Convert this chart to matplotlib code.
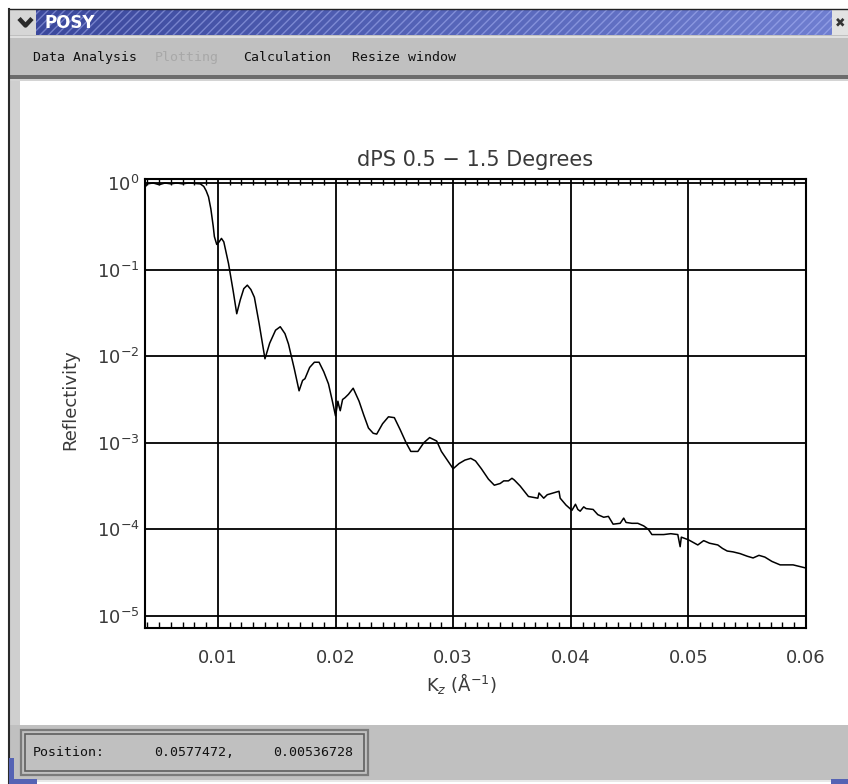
"""POSY reflectivity window — dPS 0.5-1.5 degrees, redrawn with matplotlib.

Run: python plot.py  ->  out.png (848x784)
"""
import numpy as np
import matplotlib
matplotlib.use("Agg")
import matplotlib.pyplot as plt
from matplotlib.patches import Rectangle
from matplotlib.colors import LinearSegmentedColormap
from matplotlib.ticker import FixedLocator, MultipleLocator, NullLocator, LogFormatterSciNotation

W, H = 848, 784

# Kz (1/Å) and log10(reflectivity)
kz = [0.0038, 0.0040, 0.0045, 0.0050, 0.0055, 0.0060, 0.0065, 0.0070, 0.0075, 0.0080,
      0.0085, 0.0088, 0.0090, 0.0092, 0.0094, 0.0096, 0.0097, 0.0099, 0.0101, 0.0103,
      0.0105, 0.0109, 0.0113, 0.0116, 0.0119, 0.0122, 0.0125, 0.0128, 0.0131, 0.0135,
      0.0140, 0.0144, 0.0149, 0.0153, 0.0157, 0.0160, 0.0165, 0.0169, 0.0172, 0.0174,
      0.0178, 0.0182, 0.0186, 0.0190, 0.0194, 0.0197, 0.0200, 0.0202, 0.0203, 0.0204,
      0.0206, 0.0208, 0.0211, 0.0215, 0.0220, 0.0224, 0.0228, 0.0232, 0.0235, 0.0240,
      0.0245, 0.0250, 0.0255, 0.0260, 0.0264, 0.0270, 0.0275, 0.0280, 0.0286, 0.0290,
      0.0295, 0.0300, 0.0305, 0.0310, 0.0315, 0.0319, 0.0324, 0.0330, 0.0335, 0.0340,
      0.0343, 0.0347, 0.0350, 0.0352, 0.0357, 0.0364, 0.0368, 0.0372, 0.0373, 0.0377,
      0.0380, 0.0385, 0.0390, 0.0391, 0.0396, 0.0401, 0.0404, 0.0406, 0.0408, 0.0411,
      0.0413, 0.0419, 0.0423, 0.0428, 0.0432, 0.0436, 0.0442, 0.0445, 0.0447, 0.0452,
      0.0457, 0.0462, 0.0466, 0.0469, 0.0474, 0.0479, 0.0485, 0.0491, 0.0493, 0.0494,
      0.0496, 0.0500, 0.0504, 0.0508, 0.0513, 0.0518, 0.0525, 0.0529, 0.0533, 0.0538,
      0.0544, 0.0550, 0.0555, 0.0560, 0.0565, 0.0571, 0.0578, 0.0584, 0.0589, 0.0595,
      0.0601]
log_refl = [-0.05, -0.01, 0.00, -0.02, 0.00, -0.01, 0.00, -0.01, 0.00, -0.005,
            -0.01, -0.04, -0.09, -0.16, -0.30, -0.50, -0.62, -0.71, -0.68, -0.64,
            -0.68, -0.93, -1.25, -1.51, -1.35, -1.22, -1.18, -1.23, -1.32, -1.62,
            -2.03, -1.85, -1.70, -1.66, -1.74, -1.86, -2.15, -2.40, -2.28, -2.26,
            -2.13, -2.07, -2.07, -2.18, -2.32, -2.50, -2.69, -2.52, -2.58, -2.63,
            -2.50, -2.48, -2.44, -2.37, -2.52, -2.68, -2.83, -2.89, -2.90, -2.78,
            -2.70, -2.71, -2.85, -3.00, -3.10, -3.10, -3.00, -2.94, -2.98, -3.10,
            -3.20, -3.30, -3.24, -3.20, -3.18, -3.21, -3.30, -3.42, -3.49, -3.47,
            -3.44, -3.44, -3.41, -3.43, -3.50, -3.62, -3.63, -3.64, -3.58, -3.64,
            -3.60, -3.58, -3.56, -3.64, -3.72, -3.78, -3.71, -3.77, -3.79, -3.74,
            -3.76, -3.77, -3.83, -3.86, -3.85, -3.94, -3.93, -3.87, -3.92, -3.93,
            -3.93, -3.96, -4.00, -4.06, -4.06, -4.06, -4.05, -4.06, -4.20, -4.09,
            -4.10, -4.12, -4.15, -4.18, -4.13, -4.16, -4.18, -4.22, -4.25, -4.26,
            -4.28, -4.31, -4.33, -4.30, -4.32, -4.37, -4.41, -4.41, -4.41, -4.43,
            -4.45]

x_major = [0.01, 0.02, 0.03, 0.04, 0.05, 0.06]
y_major = [1e0, 1e-1, 1e-2, 1e-3, 1e-4, 1e-5]

TITLE = "dPS 0.5 \u2212 1.5 Degrees"
MENU = [("Data Analysis", 33, "#111"), ("Plotting", 155, "#a8a8a8"),
        ("Calculation", 243, "#111"), ("Resize window", 352, "#111")]
STATUS = [("Position:", 33), ("0.0577472,", 154), ("0.00536728", 273)]

GRAY = "#c0c0c0"
MONO = "DejaVu Sans Mono"
LABEL_COL = "#3a3a3a"


def box(ax, x0, y0, x1, y1, **kw):
    ax.add_patch(Rectangle((x0, y0), x1 - x0, y1 - y0, **kw))


def draw_window(bg):
    """Window chrome in pixel coords (y down)."""
    # title bar: gradient + light diagonal hatch
    cmap = LinearSegmentedColormap.from_list("tb", ["#3b489c", "#5564b8", "#6f7ed0"])
    grad = np.linspace(0, 1, 256)[None, :]
    bg.imshow(grad, cmap=cmap, extent=[36, 832, 35, 9], aspect="auto", zorder=1)
    bg.set_xlim(0, W)
    bg.set_ylim(H, 0)
    bg.axis("off")
    box(bg, 36, 9, 832, 35, facecolor="none", edgecolor=(0.72, 0.76, 1.0, 0.45),
        hatch="////", lw=0, zorder=2)
    box(bg, 9, 9, 36, 35, facecolor="#d6d6d6", edgecolor="none", zorder=2)
    bg.plot([19, 25.5, 32], [18.5, 25.5, 18.5], color="#2a2a2a", lw=3.2,
            solid_capstyle="butt", zorder=3)
    bg.text(45, 22.5, "POSY", color="white", fontsize=12, fontweight="bold",
            va="center", ha="left", family="DejaVu Sans", zorder=3)
    box(bg, 832, 9, 848, 35, facecolor="#e2e2e2", edgecolor="none", zorder=2)
    bg.text(840, 22.5, "\u2716", color="#333", fontsize=9, va="center", ha="center",
            family="DejaVu Sans", zorder=3)
    bg.plot([9, 848], [9, 9], color="#222", lw=1, zorder=3)

    # menu bar
    box(bg, 9, 35, 848, 75, facecolor=GRAY, edgecolor="none", zorder=1)
    bg.plot([9, 848], [36.5, 36.5], color="#e6e6e6", lw=1.2, zorder=2)
    for label, x0, col in MENU:
        bg.text(x0, 57, label, color=col, fontsize=9.5, family=MONO,
                va="center", ha="left", zorder=3)
    box(bg, 9, 75, 848, 79, facecolor="#6c6c6c", edgecolor="none", zorder=1)
    box(bg, 9, 79, 848, 81, facecolor="#d4d4d4", edgecolor="none", zorder=1)

    # left frame strip + plot area
    box(bg, 9, 81, 20, 725, facecolor="#cfcfcf", edgecolor="none", zorder=1)
    box(bg, 20, 81, 848, 725, facecolor="white", edgecolor="none", zorder=1)
    bg.plot([8.5, 8.5], [9, 784], color="#2a2a2a", lw=1.5, zorder=3)

    # status area
    box(bg, 9, 725, 848, 780, facecolor=GRAY, edgecolor="none", zorder=1)
    box(bg, 9, 780, 848, 782, facecolor="#e8e8e8", edgecolor="none", zorder=1)
    box(bg, 20.5, 729.5, 368, 775, facecolor=GRAY, edgecolor="#7a7a7a", lw=1.6, zorder=2)
    box(bg, 25, 734, 363.5, 770.5, facecolor=GRAY, edgecolor="#5e5e5e", lw=1.2, zorder=2)
    for label, x0 in STATUS:
        bg.text(x0, 753, label, color="#111", fontsize=9.5, family=MONO,
                va="center", ha="left", zorder=3)

    # blue frame corners
    box(bg, 9, 758, 14, 784, facecolor="#5563b4", edgecolor="none", zorder=3)
    box(bg, 9, 779, 37, 784, facecolor="#5563b4", edgecolor="none", zorder=3)
    box(bg, 831, 779, 848, 784, facecolor="#5563b4", edgecolor="none", zorder=3)


def draw_plot(ax):
    refl = np.power(10.0, log_refl)
    ax.plot(kz, refl, color="black", lw=1.1, zorder=3)
    ax.set_yscale("log")
    ax.set_xlim(0.0038, 0.0600)
    ax.set_ylim(10 ** -5.139, 10 ** 0.046)

    ax.xaxis.set_major_locator(FixedLocator(x_major))
    ax.xaxis.set_minor_locator(MultipleLocator(0.001))
    ax.yaxis.set_major_locator(FixedLocator(y_major))
    ax.yaxis.set_major_formatter(LogFormatterSciNotation())
    ax.yaxis.set_minor_locator(NullLocator())
    ax.set_xticklabels([f"{v:.2f}" for v in x_major])

    ax.grid(True, which="major", color="black", lw=1.3)
    ax.tick_params(which="major", length=0, labelsize=13, labelcolor=LABEL_COL)
    ax.tick_params(axis="x", which="major", pad=15)
    ax.tick_params(axis="y", which="major", pad=4)
    ax.tick_params(axis="x", which="minor", direction="in", length=4.5, width=1,
                   top=True, bottom=True, color="black")
    for sp in ax.spines.values():
        sp.set_linewidth(1.5)
        sp.set_color("black")

    ax.set_title(TITLE, fontsize=15, pad=9, color=LABEL_COL)
    ax.set_xlabel("K$_z$ (\u00c5$^{-1}$)", fontsize=13, color=LABEL_COL)
    ax.set_ylabel("Reflectivity", fontsize=13, color=LABEL_COL)
    ax.xaxis.set_label_coords((461 - 145) / 661, (628 - 684) / 449)
    ax.xaxis.label.set_va("center")
    ax.yaxis.set_label_coords((70 - 145) / 661, (628 - 400) / 449)
    ax.yaxis.label.set_va("center")


if __name__ == "__main__":
    plt.rcParams["font.family"] = ["DejaVu Sans"]
    plt.rcParams["mathtext.fontset"] = "dejavusans"
    fig = plt.figure(figsize=(W / 100, H / 100), dpi=100, facecolor="white")
    bg = fig.add_axes([0, 0, 1, 1], zorder=0)
    draw_window(bg)
    ax = fig.add_axes([145 / W, 1 - 628 / H, 661 / W, 449 / H], zorder=1)
    draw_plot(ax)
    fig.savefig("out.png", dpi=100, facecolor="white")
    print("saved out.png")
